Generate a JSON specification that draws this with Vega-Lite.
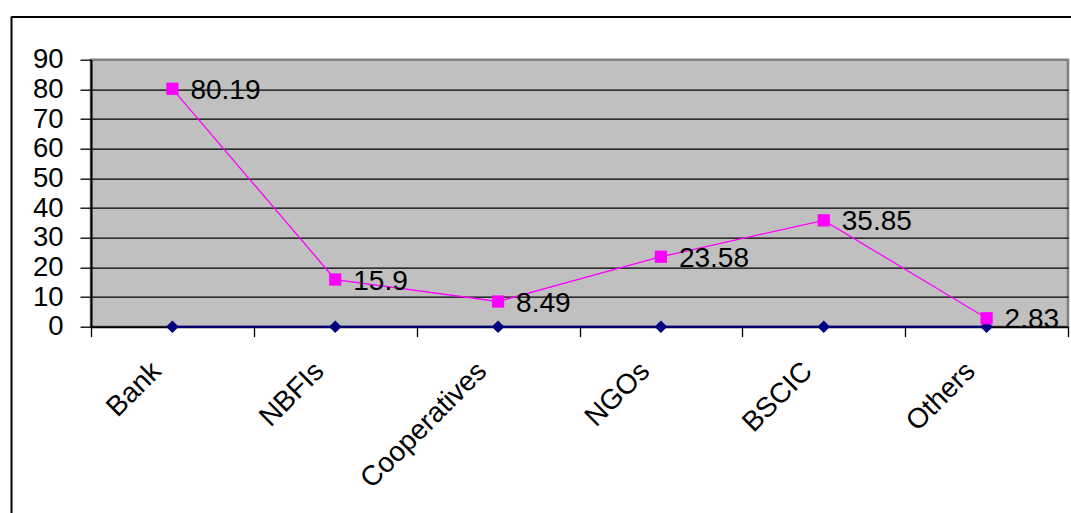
{
  "$schema": "https://vega.github.io/schema/vega-lite/v6.json",
  "autosize": "none",
  "width": 977,
  "height": 267,
  "padding": {"left": 91, "top": 59.7, "right": 3, "bottom": 186.3},
  "background": "white",
  "config": {
    "font": "Liberation Sans",
    "view": {"fill": "#C0C0C0", "stroke": "#808080", "strokeWidth": 2.5}
  },
  "datasets": {
    "share": [
      {"source": "Bank", "value": 80.19},
      {"source": "NBFIs", "value": 15.9},
      {"source": "Cooperatives", "value": 8.49},
      {"source": "NGOs", "value": 23.58},
      {"source": "BSCIC", "value": 35.85},
      {"source": "Others", "value": 2.83}
    ],
    "base": [
      {"source": "Bank", "value": 0},
      {"source": "NBFIs", "value": 0},
      {"source": "Cooperatives", "value": 0},
      {"source": "NGOs", "value": 0},
      {"source": "BSCIC", "value": 0},
      {"source": "Others", "value": 0}
    ]
  },
  "resolve": {
    "scale": {"x": "independent", "y": "independent"},
    "axis": {"x": "independent", "y": "independent"}
  },
  "layer": [
    {
      "description": "Chart-area border: top and left edges drawn as axis domain lines",
      "data": {"values": [{}]},
      "mark": {"type": "point", "opacity": 0},
      "encoding": {
        "x": {
          "datum": 0,
          "type": "quantitative",
          "scale": {"domain": [0, 1], "range": [-80, 1000]},
          "axis": {"orient": "top", "offset": 43.3, "domainColor": "black", "domainWidth": 2, "ticks": false, "labels": false, "grid": false, "title": null}
        },
        "y": {
          "datum": 0,
          "type": "quantitative",
          "scale": {"domain": [0, 1], "range": [470, -43.7]},
          "axis": {"orient": "left", "offset": 80, "domainColor": "black", "domainWidth": 2, "ticks": false, "labels": false, "grid": false, "title": null}
        }
      }
    },
    {
      "encoding": {
        "x": {
          "field": "source",
          "type": "nominal",
          "sort": null,
          "scale": {"type": "band", "paddingInner": 0, "paddingOuter": 0},
          "axis": {
            "title": null,
            "orient": "bottom",
            "tickBand": "extent",
            "domainColor": "black",
            "domainWidth": 2,
            "tickColor": "black",
            "tickSize": 10,
            "tickWidth": 1.3,
            "labelAngle": -45,
            "labelAlign": "right",
            "labelBaseline": "middle",
            "labelFontSize": 28,
            "labelColor": "black",
            "labelPadding": 30,
            "labelOffset": -16,
            "grid": false
          }
        },
        "y": {
          "field": "value",
          "type": "quantitative",
          "scale": {"domain": [0, 90], "nice": false, "zero": true},
          "axis": {
            "title": null,
            "orient": "left",
            "values": [0, 10, 20, 30, 40, 50, 60, 70, 80, 90],
            "domainColor": "black",
            "domainWidth": 2,
            "tickColor": "black",
            "tickSize": 11,
            "tickWidth": 1.3,
            "labelFontSize": 27.5,
            "labelColor": "black",
            "labelPadding": 17,
            "grid": true,
            "gridColor": {"condition": {"test": "datum.value >= 90 || datum.value <= 0", "value": "transparent"}, "value": "black"},
            "gridWidth": 1.2,
            "gridOpacity": 1
          }
        }
      },
      "layer": [
        {
          "data": {"name": "base"},
          "mark": {"type": "line", "color": "#000080", "strokeWidth": 2}
        },
        {
          "data": {"name": "base"},
          "mark": {"type": "point", "shape": "diamond", "filled": true, "size": 160, "color": "#000080", "opacity": 1}
        },
        {
          "data": {"name": "share"},
          "mark": {"type": "line", "color": "#FF00FF", "strokeWidth": 1.3}
        },
        {
          "data": {"name": "share"},
          "mark": {"type": "point", "shape": "square", "filled": true, "size": 150, "color": "#FF00FF", "opacity": 1}
        },
        {
          "data": {"name": "share"},
          "mark": {"type": "text", "align": "left", "baseline": "alphabetic", "dx": 18, "dy": 10, "fontSize": 28, "color": "black"},
          "encoding": {"text": {"field": "value", "type": "nominal"}}
        }
      ]
    }
  ]
}
